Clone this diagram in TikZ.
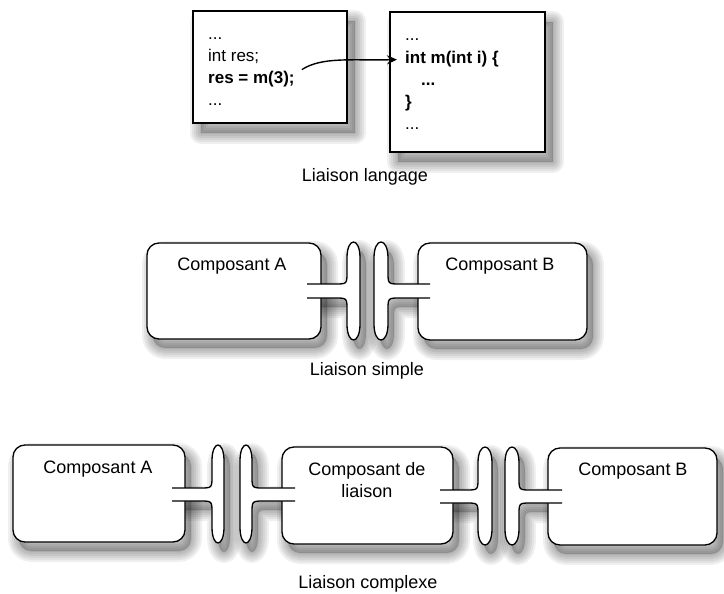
\documentclass[tikz,border=0pt]{standalone}
\usepackage{fontspec}
\setmainfont{Liberation Sans}
\usetikzlibrary{arrows.meta,calc}
% plug: #1 tube start, #2 open side of capsule, #3 closed side, #4 top, #5 bottom, #6 upper tube, #7 lower tube, #8 direction
\newcommand\plugpath[8]{(#1,#6) -- ({#2-(#8)*12},#6) .. controls (#2,#6) .. (#2,{#6-12}) -- (#2,{#4+16}) .. controls (#2,{#4-5.33}) and (#3,{#4-5.33}) .. (#3,{#4+16}) -- (#3,{#5-16}) .. controls (#3,{#5+5.33}) and (#2,{#5+5.33}) .. (#2,{#5-16}) -- (#2,{#7+12}) .. controls (#2,#7) .. ({#2-(#8)*12},#7) -- (#1,#7)}
% soft shadow: #1 options, #2 offset, #3 path
\newcommand\softshadow[3]{%
  \path[shadowfill,shift={(#2)},#1] #3;
  \foreach \w in {22,18,14,10,6,2} {%
    \path[shadowring,line width=\w pt,shift={(#2)},#1] #3;}}
\tikzset{
  shadowfill/.style={fill=black,opacity=0.2},
  shadowring/.style={draw=black,opacity=0.06,line join=round},
  sqbox/.style={draw=black,line width=1.5pt,fill=white},
  rbox/.style={draw=black,line width=1.3pt,fill=white,rounded corners=12pt},
  plug/.style={draw=black,line width=1.3pt,fill=white},
  code/.style={font=\fontsize{17}{20}\selectfont,inner sep=0pt,anchor=base west},
  txt/.style={font=\fontsize{18}{22}\selectfont,inner sep=0pt,anchor=base,align=center},
}
\begin{document}
\begin{tikzpicture}[x=1pt,y=-1pt]
\useasboundingbox (0,0) rectangle (724,594);
% ---------- shadows ----------
\softshadow{}{8,10}{(193,11) rectangle (347,123)}
\softshadow{}{8,10}{(390,12) rectangle (545,152)}
\softshadow{rounded corners=12pt}{6,9}{(147,243) rectangle (321,339)}
\softshadow{rounded corners=12pt}{6,9}{(418,243) rectangle (587,340)}
\softshadow{}{6,9}{\plugpath{307}{347}{360}{242}{340}{284}{298}{1}}
\softshadow{}{6,9}{\plugpath{430}{388}{374}{242}{340}{284}{298}{-1}}
\softshadow{rounded corners=12pt}{6,9}{(13,445) rectangle (185,542)}
\softshadow{rounded corners=12pt}{6,9}{(282,447) rectangle (453,544)}
\softshadow{rounded corners=12pt}{6,9}{(548,448) rectangle (717,545)}
\softshadow{}{6,9}{\plugpath{172}{212}{224}{445}{543}{488}{501}{1}}
\softshadow{}{6,9}{\plugpath{295}{252}{240}{445}{543}{488}{501}{-1}}
\softshadow{}{6,9}{\plugpath{440}{478}{492}{447}{545}{490}{503}{1}}
\softshadow{}{6,9}{\plugpath{562}{519}{505}{447}{545}{490}{503}{-1}}
% ---------- boxes ----------
\path[sqbox] (193,11) rectangle (347,123);
\path[sqbox] (390,12) rectangle (545,152);
\path[rbox] (147,243) rectangle (321,339);
\path[rbox] (418,243) rectangle (587,340);
\path[rbox] (13,445) rectangle (185,542);
\path[rbox] (282,447) rectangle (453,544);
\path[rbox] (548,448) rectangle (717,545);
% ---------- plugs ----------
\path[plug] \plugpath{307}{347}{360}{242}{340}{284}{298}{1};
\path[plug] \plugpath{430}{388}{374}{242}{340}{284}{298}{-1};
\path[plug] \plugpath{172}{212}{224}{445}{543}{488}{501}{1};
\path[plug] \plugpath{295}{252}{240}{445}{543}{488}{501}{-1};
\path[plug] \plugpath{440}{478}{492}{447}{545}{490}{503}{1};
\path[plug] \plugpath{562}{519}{505}{447}{545}{490}{503}{-1};
% ---------- code texts ----------
\node[code] (l1) at (208,40) {...};
\node[code] (l2) at (208,62) {int res;};
\node[code] (l3) at (208,84) {\bfseries res = m(3);};
\node[code] (l4) at (208,106) {...};
\node[code] (r1) at (405,41) {...};
\node[code] (r2) at (405,64) {\bfseries int m(int i) \{};
\node[code] (r3) at (421,86) {\bfseries ...};
\node[code] (r4) at (405,108) {\bfseries \}};
\node[code] (r5) at (405,129) {...};
\coordinate (as) at ([xshift=7pt,yshift=10pt]l3.east);
\coordinate (ae) at ([xshift=-8pt]r2.west);
\draw[line width=1.4pt,-{Stealth[length=10pt,width=9pt]}] (as) .. controls ($(as)+(20,-13)$) and ($(ae)+(-45,1)$) .. (ae);
% ---------- labels ----------
\node[txt] (t1) at (365,182) {Liaison langage};
\node[txt] (ca1) at (232,270) {Composant A};
\node[txt] (cb1) at (500,270) {Composant B};
\node[txt] (t2) at (367,375) {Liaison simple};
\node[txt] (ca2) at (98,473) {Composant A};
\node[txt] (cl) at (367,497) {Composant de\\liaison};
\node[txt] (cb2) at (633,475) {Composant B};
\node[txt] (t3) at (368,588) {Liaison complexe};
\end{tikzpicture}
\end{document}
